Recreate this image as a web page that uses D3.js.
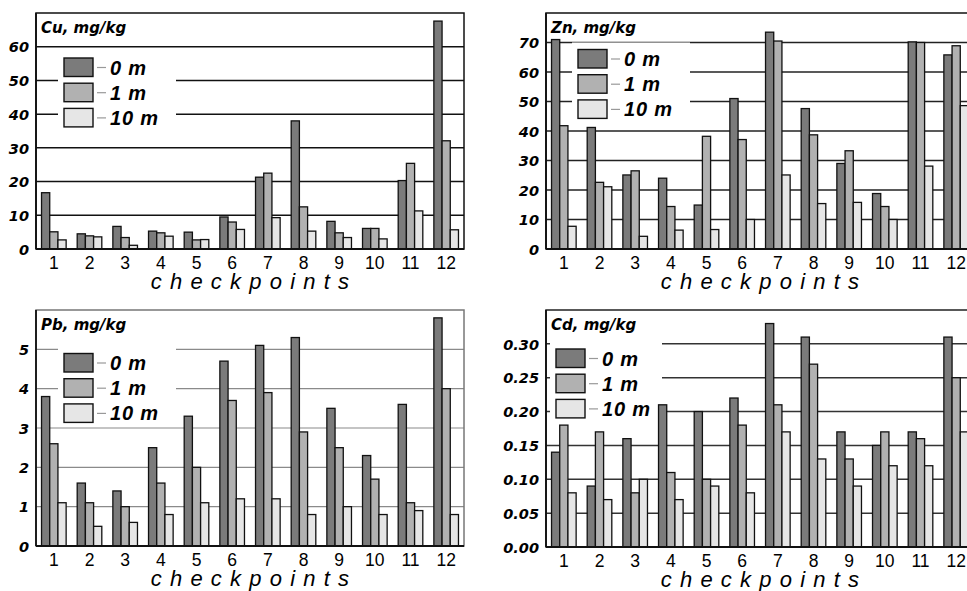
<!DOCTYPE html>
<html>
<head>
<script src="https://cdn.jsdelivr.net/npm/d3@7"></script>
<style>
  body { margin: 0; background: #fff; }
</style>
</head>
<body>
<svg width="967" height="591"></svg>
<script>
// data
var checkpoints = ["1","2","3","4","5","6","7","8","9","10","11","12"];
var depths = ["0 m", "1 m", "10 m"];

var cu0  = [16.7, 4.5, 6.7, 5.3, 5.0, 9.5, 21.3, 38.0, 8.2, 6.1, 20.3, 67.6];
var cu1  = [5.1, 3.9, 3.4, 4.8, 2.7, 8.0, 22.5, 12.5, 4.8, 6.1, 25.4, 32.1];
var cu10 = [2.7, 3.6, 1.1, 3.8, 2.8, 5.8, 9.3, 5.3, 3.4, 3.0, 11.3, 5.7];

var zn0  = [71.0, 41.2, 25.1, 24.0, 14.9, 51.0, 73.5, 47.6, 29.0, 18.8, 70.2, 65.8];
var zn1  = [41.8, 22.6, 26.5, 14.4, 38.2, 37.1, 70.5, 38.7, 33.3, 14.4, 70.0, 68.9];
var zn10 = [7.7, 21.1, 4.3, 6.4, 6.6, 10.0, 25.1, 15.4, 15.8, 10.0, 28.1, 48.6];

var pb0  = [3.8, 1.6, 1.4, 2.5, 3.3, 4.7, 5.1, 5.3, 3.5, 2.3, 3.6, 5.8];
var pb1  = [2.6, 1.1, 1.0, 1.6, 2.0, 3.7, 3.9, 2.9, 2.5, 1.7, 1.1, 4.0];
var pb10 = [1.1, 0.5, 0.6, 0.8, 1.1, 1.2, 1.2, 0.8, 1.0, 0.8, 0.9, 0.8];

var cd0  = [0.14, 0.09, 0.16, 0.21, 0.20, 0.22, 0.33, 0.31, 0.17, 0.15, 0.17, 0.31];
var cd1  = [0.18, 0.17, 0.08, 0.11, 0.10, 0.18, 0.21, 0.27, 0.13, 0.17, 0.16, 0.25];
var cd10 = [0.08, 0.07, 0.10, 0.07, 0.09, 0.08, 0.17, 0.13, 0.09, 0.12, 0.12, 0.17];

var cuTicks = [0, 10, 20, 30, 40, 50, 60];
var znTicks = [0, 10, 20, 30, 40, 50, 60, 70];
var pbTicks = [0, 1, 2, 3, 4, 5];
var cdTicks = [0, 0.05, 0.10, 0.15, 0.20, 0.25, 0.30];

var colors = ["#7b7b7b", "#b1b1b1", "#e6e6e6"];

var svg = d3.select("svg");
svg.append("rect").attr("width", 967).attr("height", 591).attr("fill", "#fff");

function drawPanel(p) {
    var left = p.left, right = p.right, top = p.top, bottom = p.bottom;
    var g = svg.append("g");

    var x0 = d3.scaleBand().domain(checkpoints).range([left, right])
        .paddingInner(0.31).paddingOuter(0.155);
    var x1 = d3.scaleBand().domain(depths).range([0, x0.bandwidth()]);
    var y = d3.scaleLinear().domain([0, p.max]).range([bottom, top]);

    // grid
    g.selectAll(".grid").data(p.ticks.filter(function(t){ return t > 0; }))
        .enter().append("line")
        .attr("x1", left).attr("x2", right)
        .attr("y1", function(d){ return y(d); })
        .attr("y2", function(d){ return y(d); })
        .attr("stroke", p.grid).attr("stroke-width", p.gridW);

    // legend
    var lg = g.append("g");
    lg.append("rect")
        .attr("x", left + p.leg[0] - 6).attr("y", top + p.leg[1] - 7)
        .attr("width", p.legW).attr("height", 80)
        .attr("fill", "#fff");
    depths.forEach(function(dep, i) {
        var sx = left + p.leg[0], sy = top + p.leg[1] + i * 25.2;
        lg.append("rect").attr("x", sx).attr("y", sy)
            .attr("width", 29).attr("height", 18.5)
            .attr("fill", colors[i]).attr("stroke", "#111").attr("stroke-width", 1.4);
        lg.append("line").attr("x1", sx + 33).attr("x2", sx + 42)
            .attr("y1", sy + 9.5).attr("y2", sy + 9.5)
            .attr("stroke", "#999").attr("stroke-width", 1.2);
        lg.append("text").attr("x", sx + 46).attr("y", sy + 16.5)
            .attr("font-family", "Liberation Sans").attr("font-weight", "bold")
            .attr("font-style", "italic").attr("font-size", 20)
            .attr("letter-spacing", 0.8)
            .attr("fill", "#000").text(dep);
    });

    // bars
    var groups = g.selectAll(".grp").data(checkpoints).enter().append("g")
        .attr("transform", function(d){ return "translate(" + x0(d) + ",0)"; });
    groups.selectAll("rect")
        .data(function(d, i){ return p.series.map(function(s, k){ return {k: k, v: s[i]}; }); })
        .enter().append("rect")
        .attr("x", function(d){ return x1(depths[d.k]); })
        .attr("width", x1.bandwidth())
        .attr("y", function(d){ return y(d.v); })
        .attr("height", function(d){ return bottom - y(d.v); })
        .attr("fill", function(d){ return colors[d.k]; })
        .attr("stroke", "#111").attr("stroke-width", 1.3);

    // frame
    g.append("rect").attr("x", left).attr("y", top)
        .attr("width", right - left).attr("height", bottom - top)
        .attr("fill", "none").attr("stroke", p.frame).attr("stroke-width", 1.5);
    g.append("line").attr("x1", left).attr("x2", right)
        .attr("y1", bottom).attr("y2", bottom)
        .attr("stroke", "#111").attr("stroke-width", 2);
    g.append("line").attr("x1", left).attr("x2", left)
        .attr("y1", top).attr("y2", bottom)
        .attr("stroke", "#111").attr("stroke-width", 1.8);

    // title
    g.append("text").attr("x", left + 5).attr("y", top + 20)
        .attr("font-family", "DejaVu Sans").attr("font-weight", "bold")
        .attr("font-style", "italic").attr("font-size", 15)
        .text(p.title);

    // axes
    var ya = g.append("g").attr("transform", "translate(" + left + ",0)")
        .call(d3.axisLeft(y).tickValues(p.ticks).tickSize(0).tickPadding(7).tickFormat(p.fmt));
    ya.select(".domain").remove();
    ya.selectAll("text").attr("font-family", "DejaVu Sans").attr("font-weight", "bold")
        .attr("font-style", "italic").attr("font-size", 14.5).attr("fill", "#000")
        .attr("dy", "0.36em");

    var xa = g.append("g").attr("transform", "translate(0," + bottom + ")")
        .call(d3.axisBottom(x0).tickSize(0).tickPadding(8));
    xa.select(".domain").remove();
    xa.selectAll("text").attr("font-family", "Liberation Sans")
        .attr("font-size", 17.5).attr("fill", "#000");

    g.append("text").attr("x", (left + right) / 2 + 4).attr("y", bottom + 40)
        .attr("text-anchor", "middle")
        .attr("font-family", "Liberation Sans").attr("font-style", "italic")
        .attr("font-size", 22).attr("letter-spacing", 8.2)
        .text("checkpoints");
}

drawPanel({ left: 36, right: 464, top: 13, bottom: 249, max: 70, ticks: cuTicks,
    fmt: d3.format("d"), series: [cu0, cu1, cu10], title: "Cu, mg/kg",
    grid: "#111", gridW: 1.5, frame: "#111", leg: [28, 45], legW: 118 });

drawPanel({ left: 546, right: 974, top: 13, bottom: 249, max: 80, ticks: znTicks,
    fmt: d3.format("d"), series: [zn0, zn1, zn10], title: "Zn, mg/kg",
    grid: "#222", gridW: 1.5, frame: "#111", leg: [32, 36.5], legW: 118 });

drawPanel({ left: 36, right: 464, top: 310, bottom: 546, max: 6, ticks: pbTicks,
    fmt: d3.format("d"), series: [pb0, pb1, pb10], title: "Pb, mg/kg",
    grid: "#8a8a8a", gridW: 1.2, frame: "#777", leg: [28, 43.5], legW: 118 });

drawPanel({ left: 546, right: 974, top: 310, bottom: 547, max: 0.35, ticks: cdTicks,
    fmt: d3.format(".2f"), series: [cd0, cd1, cd10], title: "Cd, mg/kg",
    grid: "#333", gridW: 1.5, frame: "#222", leg: [10, 39], legW: 112 });
</script>
</body>
</html>
